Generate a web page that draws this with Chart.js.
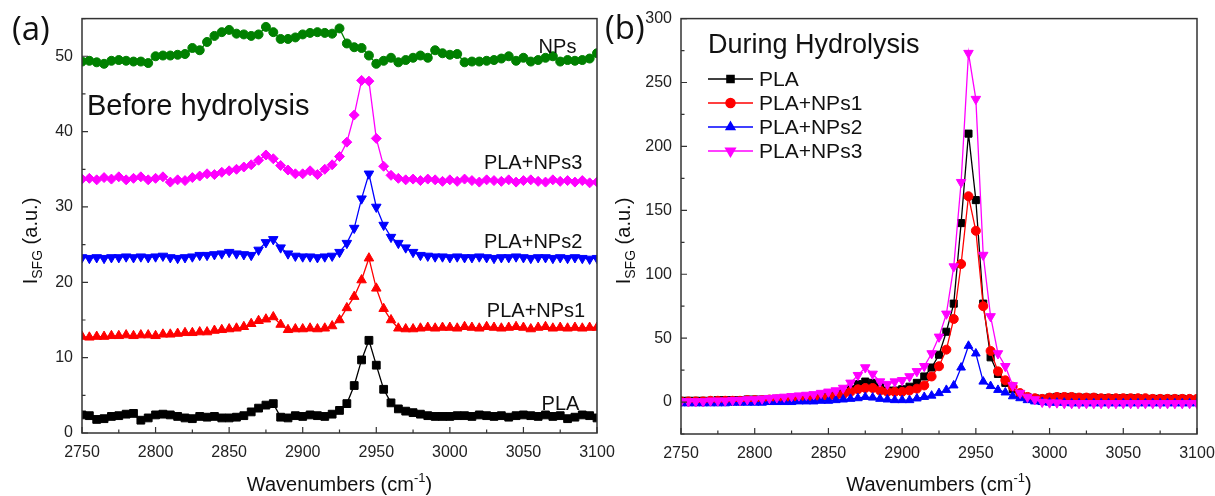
<!DOCTYPE html>
<html>
<head>
<meta charset="utf-8">
<script src="https://cdn.jsdelivr.net/npm/chart.js@4.4.0/dist/chart.umd.min.js"></script>
<style>
  html, body { margin: 0; padding: 0; background: #fff; overflow: hidden; }
  #wrap { position: relative; width: 1215px; height: 496px; overflow: hidden; }
  canvas { position: absolute; top: 0; }
  #chartA { left: 0; }
  #chartB { left: 590px; }
</style>
</head>
<body>
<div id="wrap">
  <canvas id="chartA" width="625" height="496"></canvas>
  <canvas id="chartB" width="635" height="496"></canvas>
</div>
<script>
// Wavenumber grid (cm-1) shared by every spectrum
const wavenumbers = [
  2750, 2755, 2760, 2765, 2770, 2775, 2780, 2785, 2790, 2795,
  2800, 2805, 2810, 2815, 2820, 2825, 2830, 2835, 2840, 2845,
  2850, 2855, 2860, 2865, 2870, 2875, 2880, 2885, 2890, 2895,
  2900, 2905, 2910, 2915, 2920, 2925, 2930, 2935, 2940, 2945,
  2950, 2955, 2960, 2965, 2970, 2975, 2980, 2985, 2990, 2995,
  3000, 3005, 3010, 3015, 3020, 3025, 3030, 3035, 3040, 3045,
  3050, 3055, 3060, 3065, 3070, 3075, 3080, 3085, 3090, 3095,
  3100
];

// (a) Before hydrolysis - spectra are offset vertically
const beforePLA = [
  2.4, 2.3, 1.8, 1.9, 2.2, 2.3, 2.5, 2.6, 1.7, 2.0,
  2.4, 2.5, 2.4, 2.2, 2.0, 1.9, 2.2, 2.1, 2.2, 2.0,
  2.0, 2.1, 2.3, 2.8, 3.3, 3.7, 3.9, 2.1, 2.0, 2.3,
  2.2, 2.4, 2.3, 2.2, 2.5, 3.0, 3.9, 6.3, 9.7, 12.3,
  9.0, 5.8, 4.0, 3.2, 2.9, 2.7, 2.5, 2.3, 2.2, 2.2,
  2.2, 2.3, 2.3, 2.2, 2.4, 2.3, 2.2, 2.3, 2.1, 2.3,
  2.4, 2.3, 2.2, 2.4, 2.2, 2.3, 1.9, 2.1, 2.4, 2.3,
  2.0
];
const beforeNPs1 = [
  12.8, 12.7, 12.8, 12.8, 12.9, 12.9, 13.0, 12.9, 13.0, 13.0,
  12.9, 13.1, 13.1, 13.2, 13.3, 13.3, 13.4, 13.4, 13.6, 13.7,
  13.8, 13.9, 14.1, 14.5, 14.9, 15.1, 15.4, 14.4, 13.7, 13.8,
  13.8, 13.9, 13.8, 13.9, 14.2, 15.0, 16.6, 18.1, 20.3, 23.2,
  19.2, 16.5, 15.0, 13.9, 13.8, 13.8, 13.9, 14.0, 13.9, 14.0,
  14.0, 13.9, 14.1, 14.0, 13.9, 14.1, 14.0, 13.9, 14.0, 14.1,
  14.0, 13.8, 14.0, 14.1, 13.9, 14.0, 13.9, 14.0, 13.9, 14.0,
  14.0
];
const beforeNPs2 = [
  23.3, 23.2, 23.3, 23.2, 23.3, 23.3, 23.4, 23.3, 23.4, 23.3,
  23.4, 23.5, 23.3, 23.2, 23.3, 23.4, 23.6, 23.6, 23.7, 23.8,
  24.0, 23.8, 23.7, 23.6, 24.3, 25.3, 25.7, 24.6, 23.8, 23.5,
  23.4, 23.4, 23.3, 23.4, 23.5, 24.0, 25.2, 27.2, 31.1, 34.4,
  30.0, 27.6, 26.0, 25.2, 24.6, 24.0, 23.6, 23.5, 23.4, 23.4,
  23.3, 23.4, 23.3, 23.3, 23.4, 23.3, 23.2, 23.3, 23.3, 23.4,
  23.3, 23.2, 23.3, 23.3, 23.2, 23.3, 23.2, 23.3, 23.2, 23.1,
  23.2
];
const beforeNPs3 = [
  33.7, 33.8, 33.6, 33.9, 33.7, 34.0, 33.6, 33.8, 34.0, 33.6,
  33.8, 34.0, 33.3, 33.6, 33.5, 33.9, 34.1, 34.4, 34.3, 34.6,
  34.8, 35.0, 35.3, 35.6, 36.2, 36.9, 36.4, 35.5, 34.9, 34.4,
  34.4, 34.8, 34.3, 35.0, 35.6, 36.7, 38.6, 42.2, 46.8, 46.7,
  39.1, 35.4, 34.2, 33.8, 33.6, 33.7, 33.5, 33.7, 33.6, 33.4,
  33.6, 33.4, 33.7, 33.5, 33.3, 33.6, 33.5, 33.4, 33.6, 33.3,
  33.5, 33.6, 33.4, 33.3, 33.6, 33.4, 33.5, 33.3, 33.5, 33.2,
  33.3
];
const beforeNPs = [
  49.3, 49.4, 49.2, 49.0, 49.4, 49.5, 49.4, 49.3, 49.3, 49.1,
  50.0, 50.1, 50.1, 50.2, 50.3, 51.1, 50.8, 51.9, 52.7, 53.2,
  53.5, 53.0, 52.9, 52.7, 52.9, 53.9, 53.2, 52.3, 52.3, 52.5,
  52.9, 53.1, 53.2, 53.1, 53.0, 53.7, 51.7, 51.2, 51.1, 50.1,
  49.0, 49.4, 49.8, 49.2, 49.5, 49.8, 50.1, 49.8, 50.8, 50.4,
  50.2, 50.3, 49.2, 49.3, 49.3, 49.4, 49.5, 49.7, 50.0, 49.4,
  49.8, 49.3, 49.5, 49.8, 50.0, 49.3, 49.5, 49.4, 49.5, 49.7,
  50.4
];

// (b) During hydrolysis
const duringPLA = [
  1, 1, 1, 1, 1, 1.5, 1.5, 1.5, 1.5, 2,
  2, 2, 2, 2.5, 2.5, 3, 3, 3.5, 4, 4.5,
  5, 6, 7, 10, 14, 16, 15, 12, 9, 9,
  10, 12, 15, 20, 27, 37, 55, 77, 140, 210,
  158, 77, 35, 22, 15, 10, 6, 4, 3, 2.5,
  3.5, 4, 4, 4, 3.5, 3.5, 3.5, 3, 3, 3,
  3, 3, 3, 2.5, 2.5, 2.5, 2.5, 2.5, 2.5, 2,
  2
];
const duringNPs1 = [
  0.5, 0.5, 0.5, 0.5, 1, 1, 1, 1, 1, 1.5,
  1.5, 1.5, 2, 2, 2, 2.5, 2.5, 3, 3, 3.5,
  4, 5, 6, 8, 10, 11, 11, 9, 8, 8,
  8, 9, 10.5, 13, 20, 28, 41, 65, 108, 161,
  134, 75, 40, 24, 17, 12, 7, 4, 3, 2.5,
  3.5, 4, 4, 4, 3.5, 3.5, 3.5, 3, 3, 3,
  3, 3, 3, 3, 2.5, 2.5, 2.5, 2.5, 2.5, 2.5,
  2.5
];
const duringNPs2 = [
  -1, -1, -1, -1, -1, -1, -1, -0.5, -0.5, -0.5,
  -0.5, -0.5, 0, 0, 0, 0, 0.5, 0.5, 0.5, 1,
  1, 1.5, 2, 2.5, 3, 4, 3.5, 2.5, 2, 1.5,
  1.5, 1.5, 2.8, 4, 5, 7, 9.5, 13, 27, 44,
  38, 16, 12.5, 9.5, 7.5, 4.5, 3, 1.5, 0.5, 0,
  -0.5, -0.5, -0.5, -1, -1, -1, -1, -1, -1, -1,
  -1, -1, -1, -1, -1, -1, -1, -1, -1, -1,
  -1
];
const duringNPs3 = [
  0.5, 0.5, 0.5, 0.5, 1, 1, 1, 1.5, 1.5, 2,
  2, 2.5, 3, 3.5, 4, 4.5, 5, 5.5, 6, 7,
  8, 9, 11, 15, 21, 27, 22, 16, 14, 16,
  17, 20, 24, 28, 38, 51, 69, 106, 172, 273,
  237, 115, 67, 38, 28, 13, 7, 4, 2, 0,
  -0.5, -0.5, -1, -1, -1, -1, -1, -1, -1, -1,
  -1, -1, -1, -1, -1, -1, -1, -1, -1, -1,
  -1
];

const seriesNames = ['PLA', 'PLA+NPs1', 'PLA+NPs2', 'PLA+NPs3', 'NPs'];
const xTicks = [2750, 2800, 2850, 2900, 2950, 3000, 3050, 3100];
const yTicksA = [0, 10, 20, 30, 40, 50];
const yTicksB = [0, 50, 100, 150, 200, 250, 300];

const FONT = '"Liberation Sans", Arial, sans-serif';
const tickFont = { family: FONT, size: 16 };

function pts(ys) {
  return wavenumbers.map((x, i) => ({ x: x, y: ys[i] }));
}

function series(label, ys, color, style, radius, extra) {
  return Object.assign({
    label: label,
    data: pts(ys),
    borderColor: color,
    backgroundColor: color,
    pointBackgroundColor: color,
    pointBorderColor: color,
    pointStyle: style,
    pointRadius: radius,
    pointBorderWidth: 1,
    borderWidth: 1.3,
    tension: 0,
    fill: false
  }, extra || {});
}

function xScale(height) {
  return {
    type: 'linear', min: 2750, max: 3100,
    afterBuildTicks: s => { s.ticks = xTicks.map(v => ({ value: v })); },
    afterFit: s => { s.height = height; },
    grid: { display: false, drawTicks: false },
    border: { display: false },
    ticks: { color: '#222', font: tickFont, padding: 10, maxRotation: 0, autoSkip: false, callback: v => String(v) }
  };
}

function yScale(min, max, ticks, width) {
  return {
    type: 'linear', min: min, max: max,
    afterBuildTicks: s => { s.ticks = ticks.map(v => ({ value: v })); },
    afterFit: s => { s.width = width; },
    grid: { display: false, drawTicks: false },
    border: { display: false },
    ticks: { color: '#222', font: tickFont, padding: 9, autoSkip: false, callback: v => String(v) }
  };
}

function drawPointShape(ctx, ds, x, y) {
  ctx.fillStyle = ds.pointBackgroundColor;
  ctx.strokeStyle = ds.pointBorderColor;
  Chart.helpers.drawPoint(ctx, {
    pointStyle: ds.pointStyle, rotation: ds.pointRotation || 0,
    radius: ds.pointRadius, borderWidth: 1
  }, x, y);
}

// frame, inward ticks, axis titles and labels
const decor = {
  id: 'decor',
  afterDatasetsDraw(chart, args, o) {
    const { ctx, chartArea: a } = chart;
    const x = chart.scales.x, y = chart.scales.y;
    ctx.save();
    ctx.strokeStyle = '#333';
    ctx.lineWidth = 1.2;
    ctx.beginPath();
    for (let v = x.min; v <= x.max + 1e-6; v += o.xMinor) {
      const p = x.getPixelForValue(v);
      const len = Math.abs((v - x.min) % o.xMajor) < 1e-6 ? 6 : 3.5;
      ctx.moveTo(p, a.bottom); ctx.lineTo(p, a.bottom - len);
    }
    for (let v = Math.ceil(y.min / o.yMinor) * o.yMinor; v <= y.max + 1e-6; v += o.yMinor) {
      const p = y.getPixelForValue(v);
      const len = Math.abs(v % o.yMajor) < 1e-6 ? 6 : 3.5;
      ctx.moveTo(a.left, p); ctx.lineTo(a.left + len, p);
    }
    ctx.stroke();
    ctx.lineWidth = 1.5;
    ctx.strokeRect(a.left, a.top, a.right - a.left, a.bottom - a.top);
    ctx.restore();
  },
  afterDraw(chart, args, o) {
    const { ctx, chartArea: a } = chart;
    const x = chart.scales.x, y = chart.scales.y;
    ctx.save();
    ctx.fillStyle = '#111';
    ctx.textBaseline = 'alphabetic';

    // x title with superscript
    const cx = (a.left + a.right) / 2;
    const big = '20px ' + FONT, sup = '13px ' + FONT;
    ctx.font = big;
    const w1 = ctx.measureText('Wavenumbers (cm').width;
    const w3 = ctx.measureText(')').width;
    ctx.font = sup;
    const w2 = ctx.measureText('-1').width;
    let px = cx - (w1 + w2 + w3) / 2;
    ctx.font = big; ctx.textAlign = 'left';
    ctx.fillText('Wavenumbers (cm', px, o.xTitleY); px += w1;
    ctx.font = sup; ctx.fillText('-1', px, o.xTitleY - 9); px += w2;
    ctx.font = big; ctx.fillText(')', px, o.xTitleY);

    // y title I_SFG (a.u.)
    ctx.save();
    ctx.translate(o.yTitleX, o.yTitleY);
    ctx.rotate(-Math.PI / 2);
    const sub = '14px ' + FONT;
    ctx.font = big;
    const wI = ctx.measureText('I').width;
    const wR = ctx.measureText(' (a.u.)').width;
    ctx.font = sub;
    const wS = ctx.measureText('SFG').width;
    let tx = -(wI + wS + wR) / 2;
    ctx.font = big; ctx.fillText('I', tx, 0); tx += wI;
    ctx.font = sub; ctx.fillText('SFG', tx, 5); tx += wS;
    ctx.font = big; ctx.fillText(' (a.u.)', tx, 0);
    ctx.restore();

    // free texts in canvas pixels
    (o.texts || []).forEach(t => {
      ctx.font = t.font;
      ctx.textAlign = t.align || 'left';
      ctx.fillText(t.text, t.px, t.py);
    });

    // curve labels anchored in data units
    (o.curveLabels || []).forEach(t => {
      ctx.font = '20px ' + FONT;
      ctx.textAlign = 'right';
      ctx.fillText(t.text, x.getPixelForValue(t.x), y.getPixelForValue(t.y));
    });

    // legend
    if (o.legend) {
      const L = o.legend;
      chart.data.datasets.forEach((ds, i) => {
        const ry = L.top + i * L.rowGap;
        ctx.strokeStyle = ds.borderColor;
        ctx.lineWidth = 1.5;
        ctx.beginPath();
        ctx.moveTo(L.left, ry); ctx.lineTo(L.left + L.lineLen, ry);
        ctx.stroke();
        drawPointShape(ctx, ds, L.left + L.lineLen / 2, ry);
        ctx.fillStyle = '#111';
        ctx.font = '21px ' + FONT;
        ctx.textAlign = 'left';
        ctx.textBaseline = 'middle';
        ctx.fillText(ds.label, L.left + L.lineLen + 6, ry + 1);
        ctx.textBaseline = 'alphabetic';
      });
    }
    ctx.restore();
  }
};

// Panel (a)
new Chart(document.getElementById('chartA').getContext('2d'), {
  type: 'line',
  data: {
    datasets: [
      series(seriesNames[0], beforePLA, '#000000', 'rect', 5.5),
      series(seriesNames[1], beforeNPs1, '#ff0000', 'triangle', 5.5),
      series(seriesNames[2], beforeNPs2, '#0000ff', 'triangle', 5.5, { pointRotation: 180 }),
      series(seriesNames[3], beforeNPs3, '#ff00ff', 'rectRot', 5),
      series(seriesNames[4], beforeNPs, '#008000', 'circle', 4.5)
    ]
  },
  options: {
    responsive: false,
    animation: false,
    layout: { padding: { left: 0, right: 28, top: 18, bottom: 0 } },
    scales: { x: xScale(63), y: yScale(0, 55, yTicksA, 82) },
    plugins: {
      legend: { display: false },
      tooltip: { enabled: false },
      decor: {
        xMinor: 25, xMajor: 50, yMinor: 5, yMajor: 10,
        xTitleY: 491, yTitleX: 37, yTitleY: 241,
        texts: [
          { text: '(a)', px: 12, py: 40, font: '33px "Open Sans", ' + FONT },
          { text: 'Before hydrolysis', px: 87, py: 115, font: '29px ' + FONT }
        ],
        curveLabels: [
          { text: seriesNames[4], x: 3086, y: 50.4 },
          { text: seriesNames[3], x: 3090, y: 35.1 },
          { text: seriesNames[2], x: 3090, y: 24.5 },
          { text: seriesNames[1], x: 3092, y: 15.4 },
          { text: seriesNames[0], x: 3088, y: 3.1 }
        ]
      }
    }
  },
  plugins: [decor]
});

// Panel (b)
new Chart(document.getElementById('chartB').getContext('2d'), {
  type: 'line',
  data: {
    datasets: [
      series(seriesNames[0], duringPLA, '#000000', 'rect', 5, { order: 4 }),
      series(seriesNames[1], duringNPs1, '#ff0000', 'circle', 4.5, { order: 3 }),
      series(seriesNames[2], duringNPs2, '#0000ff', 'triangle', 5, { order: 2 }),
      series(seriesNames[3], duringNPs3, '#ff00ff', 'triangle', 5.5, { order: 1, pointRotation: 180 })
    ]
  },
  options: {
    responsive: false,
    animation: false,
    layout: { padding: { left: 0, right: 28, top: 18, bottom: 0 } },
    scales: { x: xScale(62), y: yScale(-25, 300, yTicksB, 91) },
    plugins: {
      legend: { display: false },
      tooltip: { enabled: false },
      decor: {
        xMinor: 25, xMajor: 50, yMinor: 25, yMajor: 50,
        xTitleY: 491, yTitleX: 40, yTitleY: 241,
        texts: [
          { text: '(b)', px: 15, py: 39, font: '33px "Open Sans", ' + FONT },
          { text: 'During Hydrolysis', px: 118, py: 53, font: '27px ' + FONT }
        ],
        legend: { left: 118, top: 79, rowGap: 24, lineLen: 45 }
      }
    }
  },
  plugins: [decor]
});
</script>
</body>
</html>
